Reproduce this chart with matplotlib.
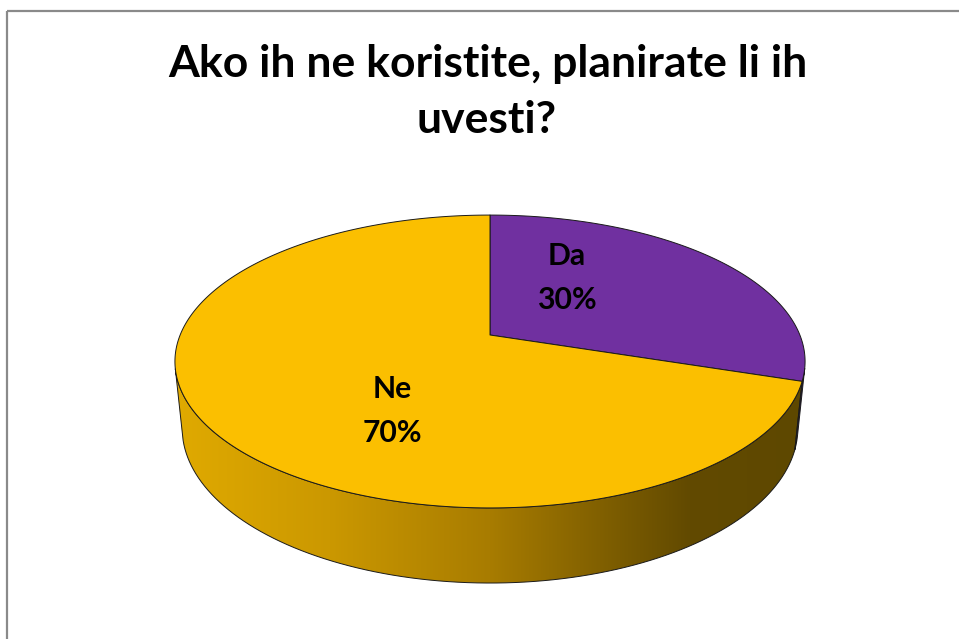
import numpy as np
import matplotlib
matplotlib.use("Agg")
import matplotlib.pyplot as plt
from matplotlib.patches import Polygon
from matplotlib.colors import to_rgb

# ---- data -------------------------------------------------------------
title_lines = ["Ako ih ne koristite, planirate li ih", "uvesti?"]
categories = ["Da", "Ne"]
shares = [30, 70]                      # percent
top_colors = ["#7030A0", "#FBBF00"]
side_dark = ["#4A1F6B", None]          # purple wall is flat, gold wall uses a gradient

# ---- canvas in pixel coordinates ---------------------------------------
W, H = 959, 639
fig = plt.figure(figsize=(W / 100, H / 100), dpi=100)
ax = fig.add_axes([0, 0, 1, 1])
ax.set_xlim(0, W)
ax.set_ylim(H, 0)
ax.axis("off")

FONT = "Lato"

# ---- simple perspective camera looking down on a unit disc ------------
sin_e = 0.4571
cos_e = np.sqrt(1 - sin_e ** 2)
dist = 4.915
focal = 1523.0
cx, cy = 490.0, 335.0
thick = 0.2436


def project(x, y, z):
    ry = y + dist * cos_e
    rz = z - dist * sin_e
    depth = ry * cos_e - rz * sin_e
    up = ry * sin_e + rz * cos_e
    return cx + focal * x / depth, cy - focal * up / depth


def rim(theta, z):
    # theta measured clockwise from the far side of the disc
    return project(np.sin(theta), np.cos(theta), z)


# slice angles (clockwise from 12 o'clock)
fr = np.array(shares, float) / sum(shares)
edges = np.concatenate([[0], np.cumsum(fr)]) * 2 * np.pi

# part of the cylinder wall facing the camera
lim = np.arccos(-1.0 / (dist * cos_e))
vis_lo, vis_hi = lim, 2 * np.pi - lim

# wall gradient stops (screen x -> colour)
grad_x = [175, 330, 490, 620, 690, 805]
grad_c = [(224, 170, 0), (203, 152, 0), (168, 124, 0), (122, 91, 0), (98, 74, 0), (94, 72, 0)]

for i in range(len(shares)):
    a, b = edges[i], edges[i + 1]
    lo, hi = max(a, vis_lo), min(b, vis_hi)
    if hi <= lo:
        continue
    t = np.linspace(lo, hi, 200)
    xt, yt = rim(t, 0.0)
    xb, yb = rim(t[::-1], -thick)
    poly = np.column_stack([np.concatenate([xt, xb]), np.concatenate([yt, yb])])
    wall = Polygon(poly, closed=True, facecolor="none", edgecolor="none")
    ax.add_patch(wall)
    if side_dark[i] is not None:
        wall.set_facecolor(side_dark[i])
    else:
        xs = np.linspace(poly[:, 0].min(), poly[:, 0].max(), 600)
        rgb = np.stack([np.interp(xs, grad_x, [g[k] for g in grad_c]) for k in range(3)], axis=-1) / 255.0
        img = ax.imshow(rgb[None, :, :], extent=(xs[0], xs[-1], poly[:, 1].max(), poly[:, 1].min()),
                        aspect="auto", interpolation="bilinear", zorder=1)
        img.set_clip_path(wall)
    # outline of the wall piece
    ax.plot(np.append(poly[:, 0], poly[0, 0]), np.append(poly[:, 1], poly[0, 1]),
            color="#1a1a1a", lw=0.7, zorder=3)

# top faces
for i in range(len(shares)):
    t = np.linspace(edges[i], edges[i + 1], 300)
    xt, yt = rim(t, 0.0)
    px, py = project(0.0, 0.0, 0.0)
    verts = np.column_stack([np.concatenate([[px], xt]), np.concatenate([[py], yt])])
    ax.add_patch(Polygon(verts, closed=True, facecolor=top_colors[i],
                         edgecolor="#1a1a1a", lw=0.7, zorder=4, joinstyle="round"))

ax.set_xlim(0, W)
ax.set_ylim(H, 0)


def fit_size(text, target_w, base=20):
    t = ax.text(0, 0, text, fontsize=base, family=FONT, weight="bold")
    fig.canvas.draw()
    w = t.get_window_extent().width
    t.remove()
    return base * target_w / w


# title
ts = fit_size(title_lines[0], 640)
ax.text(488, 77, title_lines[0], fontsize=ts, family=FONT, weight="bold",
        ha="center", va="baseline", color="black", zorder=6)
ax.text(487, 133, title_lines[1], fontsize=ts, family=FONT, weight="bold",
        ha="center", va="baseline", color="black", zorder=6)

# data labels
ls = fit_size("70%", 60)
label_pos = [(567, 265, 309), (392, 398, 442)]
for name, val, (lx, b1, b2) in zip(categories, shares, label_pos):
    ax.text(lx, b1, name, fontsize=ls, family=FONT, weight="bold",
            ha="center", va="baseline", color="black", zorder=6)
    ax.text(lx, b2, f"{val}%", fontsize=ls, family=FONT, weight="bold",
            ha="center", va="baseline", color="black", zorder=6)

# chart frame (top and left edges)
ax.plot([7, W + 5], [11, 11], color="#8a8a8a", lw=1.6, zorder=7, solid_capstyle="butt")
ax.plot([7, 7], [11, H + 5], color="#8a8a8a", lw=1.6, zorder=7, solid_capstyle="butt")

fig.savefig("out.png", dpi=100)
